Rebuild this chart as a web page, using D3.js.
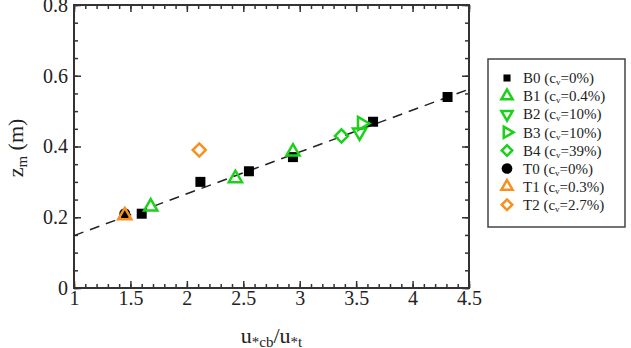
<!DOCTYPE html>
<html>
<head>
<meta charset="utf-8">
<script src="https://cdn.jsdelivr.net/npm/d3@7"></script>
<style>
  body { margin: 0; background: #fff; }
  svg, svg text { font-family: "Liberation Serif", "Times New Roman", Times, serif; }
</style>
</head>
<body>
<div id="chart"></div>
<script>
// data
const seriesNames = ["B0", "B1", "B2", "B3", "B4", "T0", "T1", "T2"];
const seriesConc = ["0%", "0.4%", "10%", "10%", "39%", "0%", "0.3%", "2.7%"];
const b0X = [1.60, 2.12, 2.55, 2.94, 3.65, 4.31];
const b0Y = [0.21, 0.30, 0.33, 0.37, 0.47, 0.54];
const b1X = [1.68, 2.43, 2.94];
const b1Y = [0.23, 0.31, 0.385];
const b2X = [3.53];
const b2Y = [0.44];
const b3X = [3.55];
const b3Y = [0.465];
const b4X = [3.37];
const b4Y = [0.43];
const t0X = [1.45];
const t0Y = [0.21];
const t1X = [1.45];
const t1Y = [0.205];
const t2X = [2.11];
const t2Y = [0.39];
const fitX = [1, 4.5];
const fitY = [0.148, 0.562];
const xTicks = [1, 1.5, 2, 2.5, 3, 3.5, 4, 4.5];
const yTicks = [0, 0.2, 0.4, 0.6, 0.8];

const green = "#1bd21b", orange = "#f7901e";
const FONT = "'Liberation Serif', 'Times New Roman', Times, serif";

const W = 631, H = 348;
const margin = {top: 5, right: 162, bottom: 60, left: 74};
const width = W - margin.left - margin.right,
      height = H - margin.top - margin.bottom;

const svg = d3.select("#chart").append("svg")
    .attr("width", W).attr("height", H)
    .style("font-family", FONT);
const g = svg.append("g")
    .attr("transform", `translate(${margin.left},${margin.top})`);

const x = d3.scaleLinear().domain([1, 4.5]).range([0, width]);
const y = d3.scaleLinear().domain([0, 0.8]).range([height, 0]);

// minor ticks
const xMinor = d3.range(1, 4.5001, 0.1).map(d => +d.toFixed(2));
const yMinor = d3.range(0, 0.8001, 0.05).map(d => +d.toFixed(3));

function tickAxis(axis, sel, ticks, size, labels) {
  sel.call(axis.tickValues(ticks).tickSize(size).tickSizeOuter(0)
      .tickFormat(labels ? d3.format("") : ""));
  sel.attr("font-family", null).attr("font-size", null);
  sel.select(".domain").remove();
  sel.selectAll(".tick line").attr("stroke", "#333").attr("stroke-width", 1.5);
  sel.selectAll("text").attr("fill", "#222").style("font-size", "20px")
      .style("font-family", FONT);
}

tickAxis(d3.axisBottom(x), g.append("g").attr("transform", `translate(0,${height})`), xMinor, -4, false);
const xb = g.append("g").attr("transform", `translate(0,${height})`);
tickAxis(d3.axisBottom(x), xb, xTicks, -7, true);
xb.selectAll("text").attr("y", 3).attr("dy", "0.71em");
tickAxis(d3.axisTop(x), g.append("g"), xMinor, -4, false);
tickAxis(d3.axisTop(x), g.append("g"), xTicks, -7, false);

tickAxis(d3.axisLeft(y), g.append("g"), yMinor, -4, false);
const yl = g.append("g");
tickAxis(d3.axisLeft(y), yl, yTicks, -7, true);
yl.selectAll("text").attr("x", -6);
tickAxis(d3.axisRight(y), g.append("g").attr("transform", `translate(${width},0)`), yMinor, -4, false);
tickAxis(d3.axisRight(y), g.append("g").attr("transform", `translate(${width},0)`), yTicks, -7, false);

g.append("rect").attr("width", width).attr("height", height)
    .attr("fill", "none").attr("stroke", "#333").attr("stroke-width", 2);

// fit line
g.append("path")
    .datum(fitX.map((d, i) => [d, fitY[i]]))
    .attr("d", d3.line().x(d => x(d[0])).y(d => y(d[1])))
    .attr("fill", "none").attr("stroke", "#222").attr("stroke-width", 1.5)
    .attr("stroke-dasharray", "10,7");

// marker styles (diamond = square turned 45 degrees)
const styles = {
  B0: {type: d3.symbolSquare, size: 100, rot: 0, fill: "#000", stroke: "none", lsize: 50},
  B1: {type: d3.symbolTriangle, size: 75, rot: 0, fill: "none", stroke: green, lsize: 55},
  B2: {type: d3.symbolTriangle, size: 75, rot: 180, fill: "none", stroke: green, lsize: 55},
  B3: {type: d3.symbolTriangle, size: 75, rot: 90, fill: "none", stroke: green, lsize: 55},
  B4: {type: d3.symbolSquare, size: 85, rot: 45, fill: "none", stroke: green, lsize: 55},
  T0: {type: d3.symbolCircle, size: 95, rot: 0, fill: "#000", stroke: "none", lsize: 90},
  T1: {type: d3.symbolTriangle, size: 75, rot: 0, fill: "none", stroke: orange, lsize: 55},
  T2: {type: d3.symbolSquare, size: 85, rot: 45, fill: "none", stroke: orange, lsize: 55}
};

const seriesData = {
  B0: [b0X, b0Y], B1: [b1X, b1Y], B2: [b2X, b2Y], B3: [b3X, b3Y],
  B4: [b4X, b4Y], T0: [t0X, t0Y], T1: [t1X, t1Y], T2: [t2X, t2Y]
};

seriesNames.forEach(name => {
  const s = styles[name];
  const [xs, ys] = seriesData[name];
  g.append("g").selectAll("path")
    .data(xs.map((d, i) => [d, ys[i]]))
    .join("path")
      .attr("d", d3.symbol().type(s.type).size(s.size))
      .attr("transform", d => `translate(${x(d[0])},${y(d[1])}) rotate(${s.rot})`)
      .attr("fill", s.fill)
      .attr("stroke", s.stroke)
      .attr("stroke-width", 2.5);
});

// axis titles
const yt = svg.append("text")
    .attr("transform", `translate(23,${margin.top + 143}) rotate(-90)`)
    .attr("text-anchor", "middle").attr("fill", "#222").style("font-size", "22px");
yt.append("tspan").text("z");
yt.append("tspan").attr("baseline-shift", "-25%").style("font-size", "15px").text("m");
yt.append("tspan").text(" (m)");

const xt = svg.append("text")
    .attr("x", margin.left + width / 2).attr("y", 343)
    .attr("text-anchor", "middle").attr("fill", "#222").style("font-size", "22px");
xt.append("tspan").text("u");
xt.append("tspan").attr("baseline-shift", "-25%").style("font-size", "15px").text("*cb");
xt.append("tspan").text("/u");
xt.append("tspan").attr("baseline-shift", "-25%").style("font-size", "15px").text("*t");

// legend
const leg = svg.append("g").attr("transform", "translate(488,59)");
leg.append("rect").attr("width", 137).attr("height", 168)
    .attr("fill", "#fff").attr("stroke", "#444").attr("stroke-width", 1.5);

const rows = leg.selectAll("g.row").data(seriesNames).join("g")
    .attr("class", "row")
    .attr("transform", (d, i) => `translate(0,${19 + i * 18.1})`);

rows.append("path")
    .attr("d", d => d3.symbol().type(styles[d].type).size(styles[d].lsize)())
    .attr("transform", d => `translate(19,0) rotate(${styles[d].rot})`)
    .attr("fill", d => styles[d].fill)
    .attr("stroke", d => styles[d].stroke)
    .attr("stroke-width", 2.5);

const lt = rows.append("text").attr("x", 35).attr("dy", "0.35em")
    .attr("fill", "#222").style("font-size", "15px");
lt.append("tspan").text(d => d + " (c");
lt.append("tspan").attr("baseline-shift", "-25%").style("font-size", "9px").text("v");
lt.append("tspan").text((d, i) => "=" + seriesConc[i] + ")");
</script>
</body>
</html>
